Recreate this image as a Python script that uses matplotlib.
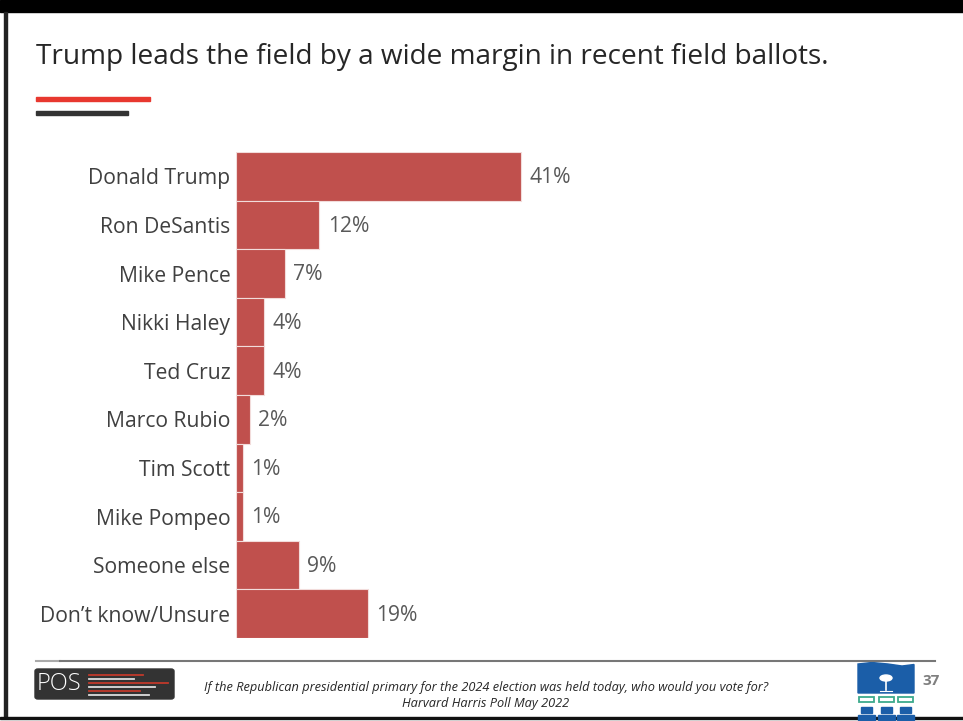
import matplotlib
matplotlib.use("Agg")
import matplotlib.pyplot as plt
from matplotlib.patches import Rectangle, FancyBboxPatch, Polygon, Ellipse
from matplotlib.lines import Line2D

categories = ["Donald Trump", "Ron DeSantis", "Mike Pence", "Nikki Haley", "Ted Cruz",
              "Marco Rubio", "Tim Scott", "Mike Pompeo", "Someone else", "Don\u2019t know/Unsure"]
values = [41, 12, 7, 4, 4, 2, 1, 1, 9, 19]
value_labels = ["41%", "12%", "7%", "4%", "4%", "2%", "1%", "1%", "9%", "19%"]

title = "Trump leads the field by a wide margin in recent field ballots."
footnote1 = "If the Republican presidential primary for the 2024 election was held today, who would you vote for?"
footnote2 = "Harvard Harris Poll May 2022"
page_num = "37"

W, H = 963, 721
FONT = "Open Sans"
plt.rcParams['font.family'] = [FONT, 'DejaVu Sans']

fig = plt.figure(figsize=(W / 100, H / 100), dpi=100)
fig.patch.set_facecolor("white")

def fx(x):
    return x / W

def fy(y):
    return 1 - y / H

# frame
fig.add_artist(Rectangle((0, fy(12)), 1, 12 / H, transform=fig.transFigure, color="black", zorder=0))
fig.add_artist(Rectangle((fx(4), fy(717)), 3 / W, (717 - 12) / H, transform=fig.transFigure, color="#222222", zorder=0))
fig.add_artist(Rectangle((0, fy(719)), 1, 2.5 / H, transform=fig.transFigure, color="#111111", zorder=0))

# title
fig.text(fx(36), fy(57), title, fontsize=20.2, color="#262626", ha="left", va="center")
fig.add_artist(Rectangle((fx(36), fy(101)), 114 / W, 4 / H, transform=fig.transFigure, color="#E8382F"))
fig.add_artist(Rectangle((fx(36), fy(115)), 92 / W, 4 / H, transform=fig.transFigure, color="#333333"))

# bar chart
left, right, top, bottom = 236, 931, 152, 638
ax = fig.add_axes([fx(left), fy(bottom), (right - left) / W, (bottom - top) / H])
y = list(range(len(categories)))
ax.barh(y, values, height=1.0, color="#C0504D", edgecolor="#F2DCDB", linewidth=0.8)
ax.set_ylim(len(categories) - 0.5, -0.5)
ax.set_xlim(0, 100)
ax.set_yticks(y)
ax.set_yticklabels(categories, fontsize=15.2, color="#404040")
ax.tick_params(axis="y", length=0, pad=4)
ax.set_xticks([])
for s in ax.spines.values():
    s.set_visible(False)
for yi, v, lab in zip(y, values, value_labels):
    ax.text(v + 1.2, yi + 0.03, lab, va="center", ha="left", fontsize=15.2, color="#595959")

# right logo (drawn before footer line)
blue = "#1B5EA8"
flag = Polygon([(fx(858), fy(693)), (fx(858), fy(664)), (fx(872), fy(662.5)), (fx(888), fy(664)),
                (fx(902), fy(666)), (fx(914), fy(664.5)), (fx(914), fy(693))], closed=True,
               transform=fig.transFigure, color=blue)
fig.add_artist(flag)
fig.add_artist(Line2D([fx(886), fx(886)], [fy(690), fy(680)], transform=fig.transFigure, color="white", lw=1.2))
fig.add_artist(Ellipse((fx(886), fy(678)), 12 / W, 6 / H, transform=fig.transFigure, color="white"))
fig.add_artist(Line2D([fx(880), fx(892)], [fy(691), fy(691)], transform=fig.transFigure, color="white", lw=0.8))
for i in range(3):
    x0 = 858 + i * 19.5
    fig.add_artist(Rectangle((fx(x0 + 1), fy(702)), 15 / W, 5 / H, transform=fig.transFigure,
                             fill=False, edgecolor="#3DAA8C", lw=1.3))
    fig.add_artist(Rectangle((fx(x0 + 3), fy(713)), 11 / W, 6 / H, transform=fig.transFigure, color=blue))
    fig.add_artist(Rectangle((fx(x0), fy(720)), 17 / W, 5 / H, transform=fig.transFigure, color=blue))
fig.text(fx(931), fy(681), page_num, fontsize=11, fontweight="bold", color="#7F7F7F", ha="center", va="center")

# footer line
fig.add_artist(Line2D([fx(36), fx(60)], [fy(661), fy(661)], transform=fig.transFigure, color="#AAAAAA", lw=1.5))
fig.add_artist(Line2D([fx(60), fx(935)], [fy(661), fy(661)], transform=fig.transFigure, color="#777777", lw=1.5))

# POS logo
fig.add_artist(FancyBboxPatch((fx(35), fy(699)), 139 / W, 30 / H, boxstyle="round,pad=0,rounding_size=0.003",
                              transform=fig.transFigure, color="#333333"))
fig.text(fx(37), fy(684.5), "POS", fontsize=17, color="white", ha="left", va="center", fontweight="light")
for yy, x2, c in [(675, 143, "#C0392B"), (679, 134, "#DDDDDD"), (683, 168, "#C0392B"),
                  (687, 155, "#DDDDDD"), (691, 140, "#C0392B"), (695, 149, "#DDDDDD")]:
    fig.add_artist(Line2D([fx(89), fx(x2)], [fy(yy), fy(yy)], transform=fig.transFigure, color=c, lw=1.3))

# footnotes
fig.text(fx(486), fy(687), footnote1, fontsize=9.15, style="italic", color="#262626", ha="center", va="center")
fig.text(fx(486), fy(704), footnote2, fontsize=9.15, style="italic", color="#262626", ha="center", va="center")

fig.savefig("out.png", dpi=100)
